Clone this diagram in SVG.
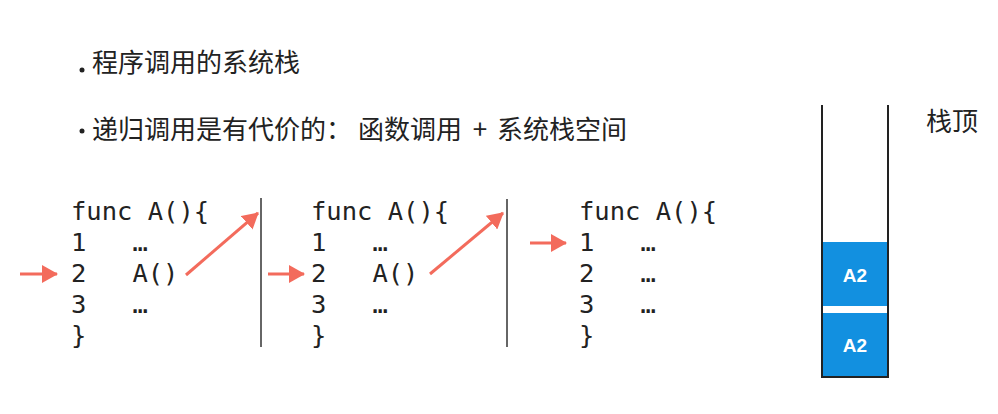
<svg xmlns="http://www.w3.org/2000/svg" width="998" height="414" viewBox="0 0 998 414">
<defs>
<style>
.cn{font-family:"Noto Sans CJK SC","Noto Sans",sans-serif;font-size:26px;fill:#222}
.code{font-family:"DejaVu Sans Mono","Liberation Mono",monospace;font-size:25.5px;fill:#222;white-space:pre}
.div{stroke:#333;stroke-width:1.5}
.arr{stroke:#f36b5c;stroke-width:3;fill:none;marker-end:url(#ah)}
.blk{fill:#1290e0}
.lbl{font-family:"Liberation Sans",Arial,sans-serif;font-size:19px;font-weight:bold;fill:#fff;text-anchor:middle}
</style>
<marker id="ah" viewBox="0 0 16 18" refX="15" refY="9" markerWidth="16" markerHeight="18" markerUnits="userSpaceOnUse" orient="auto">
<path d="M0,0 L16,9 L0,18 z" fill="#f36b5c"/>
</marker>
</defs>
<rect width="998" height="414" fill="#fff"/>
<g id="bullets">
<circle cx="82" cy="70" r="2.5" fill="#222"/>
<text class="cn" x="92" y="72">程序调用的系统栈</text>
<circle cx="82" cy="131" r="2.5" fill="#222"/>
<text class="cn" x="92" y="139">递归调用是有代价的：<tspan x="358">函数调用</tspan><tspan x="480" text-anchor="middle">+</tspan><tspan x="497">系统栈空间</tspan></text>
</g>
<g id="block1">
<text class="code" xml:space="preserve" x="71" y="220">func A(){</text>
<text class="code" xml:space="preserve" x="71" y="251">1   …</text>
<text class="code" xml:space="preserve" x="71" y="282">2   A()</text>
<text class="code" xml:space="preserve" x="71" y="313">3   …</text>
<text class="code" xml:space="preserve" x="71" y="344">}</text>
</g>
<g id="block2">
<text class="code" xml:space="preserve" x="311" y="220">func A(){</text>
<text class="code" xml:space="preserve" x="311" y="251">1   …</text>
<text class="code" xml:space="preserve" x="311" y="282">2   A()</text>
<text class="code" xml:space="preserve" x="311" y="313">3   …</text>
<text class="code" xml:space="preserve" x="311" y="344">}</text>
</g>
<g id="block3">
<text class="code" xml:space="preserve" x="579" y="220">func A(){</text>
<text class="code" xml:space="preserve" x="579" y="251">1   …</text>
<text class="code" xml:space="preserve" x="579" y="282">2   …</text>
<text class="code" xml:space="preserve" x="579" y="313">3   …</text>
<text class="code" xml:space="preserve" x="579" y="344">}</text>
</g>
<g id="dividers">
<line class="div" x1="261" y1="198" x2="261" y2="347"/>
<line class="div" x1="507" y1="199" x2="507" y2="347"/>
</g>
<g id="stack">
<rect class="blk" x="822" y="242" width="66" height="64"/>
<rect class="blk" x="822" y="313" width="66" height="64"/>
<text class="lbl" x="855" y="282">A2</text>
<text class="lbl" x="855" y="352">A2</text>
<path d="M822,105 V377 H888 V105" fill="none" stroke="#222" stroke-width="2"/>
<text class="cn" x="926" y="131">栈顶</text>
</g>
<g id="connectors">
<line class="arr" x1="20" y1="274" x2="57" y2="274"/>
<line class="arr" x1="186" y1="275" x2="258" y2="213"/>
<line class="arr" x1="268" y1="274" x2="304" y2="274"/>
<line class="arr" x1="430" y1="274" x2="503" y2="213"/>
<line class="arr" x1="530" y1="243" x2="566" y2="243"/>
</g>
</svg>
